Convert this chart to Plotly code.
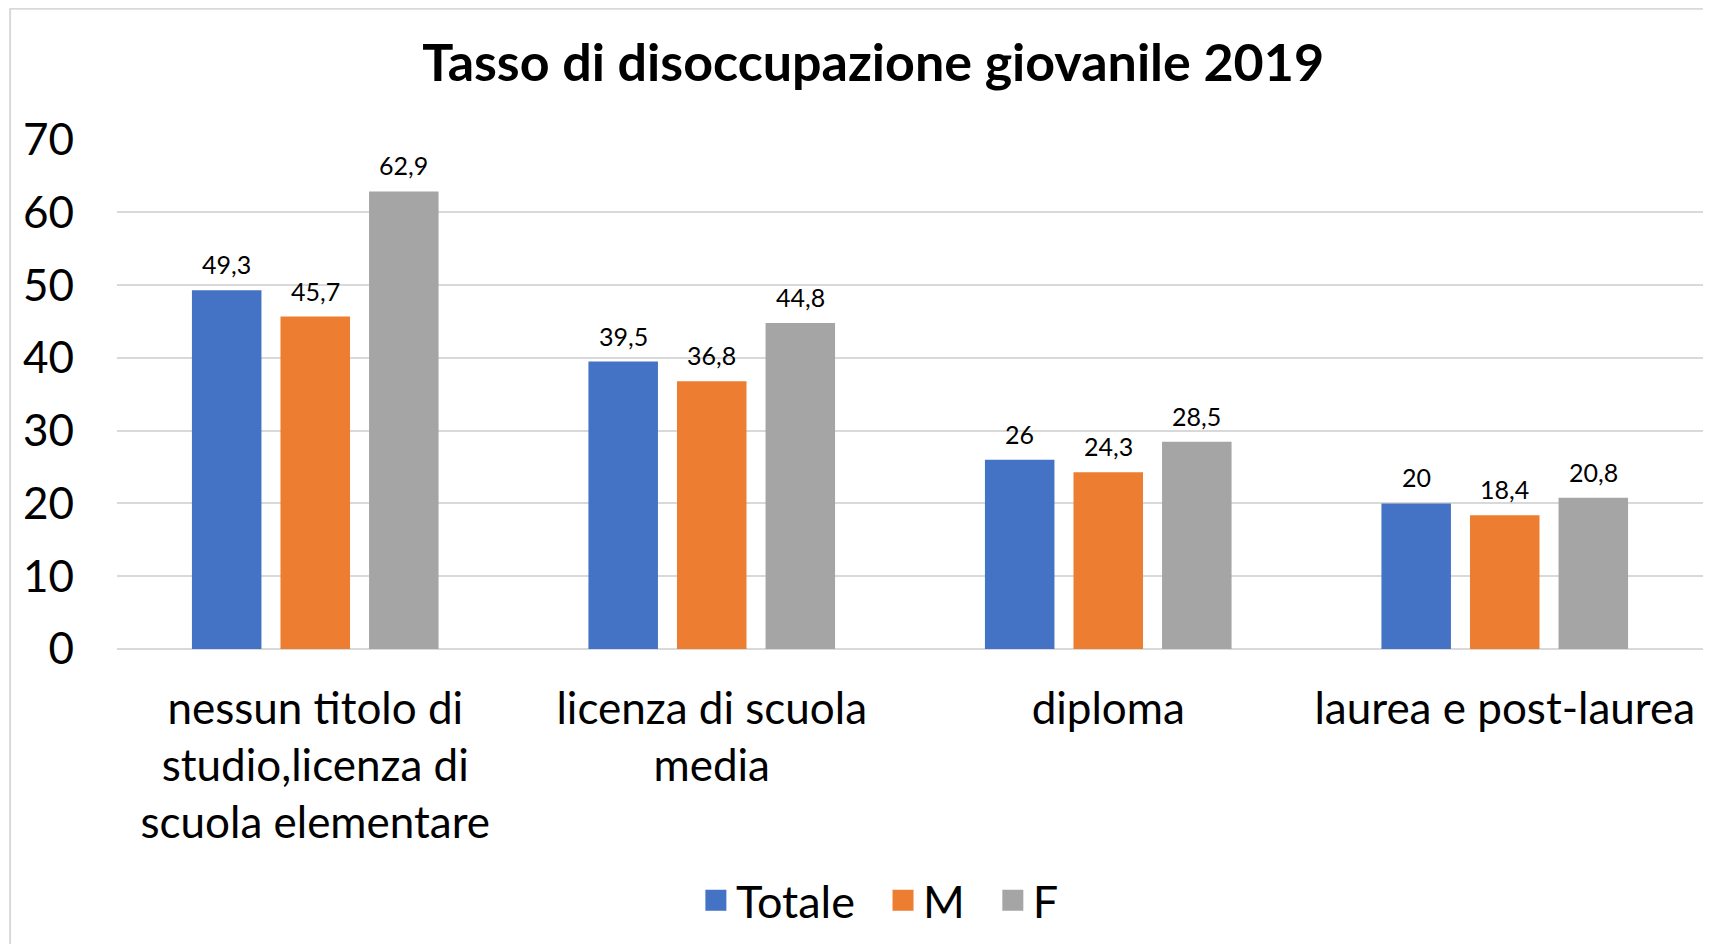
import plotly.graph_objects as go

categories = ["nessun titolo di<br>studio,licenza di<br>scuola elementare",
              "licenza di scuola<br>media", "diploma", "laurea e post-laurea"]
totale = [49.3, 39.5, 26, 20]
maschi = [45.7, 36.8, 24.3, 18.4]
femmine = [62.9, 44.8, 28.5, 20.8]
series_names = ["Totale", "M", "F"]
colors = ["#4472C4", "#ED7D31", "#A5A5A5"]
y_ticks = [0, 10, 20, 30, 40, 50, 60, 70]

FONT = "Lato"
W, H = 1703, 936
ML, MR, MT, MB = 108.5, 7.5, 131, 295
BARGAP, GROUPGAP = 0.33, 0.215
NBSP = "\u00a0"

def fmt(v):
    return ("%g" % v).replace(".", ",")

fig = go.Figure()
series = [totale, maschi, femmine]
for name, vals, col in zip(series_names, series, colors):
    fig.add_trace(go.Bar(
        x=categories, y=vals, name=name, marker_color=col, marker_line_width=0,
        showlegend=False, hoverinfo="x+y",
    ))
# legend entries (larger square symbols)
for k, (name, col) in enumerate(zip(series_names, colors)):
    label = name + (NBSP * 2 if k < len(series_names) - 1 else "")
    fig.add_trace(go.Scatter(
        x=[categories[0]], y=[None], mode="markers", name=label,
        marker=dict(symbol="square", size=26, color=col,
                    line=dict(color=col, width=5)),
    ))

# value labels above each bar, placed via the category axis + group slot offset
plot_w = W - ML - MR
slot_px = plot_w / len(categories) * (1 - BARGAP) / len(series)
annotations = []
for i, vals in enumerate(series):
    for cat, v in zip(categories, vals):
        annotations.append(dict(
            x=cat, y=v, xref="x", yref="y", text=fmt(v), showarrow=False,
            xshift=(i - 1) * slot_px, yanchor="bottom", yshift=9,
            font=dict(family=FONT, size=25, color="#000000"),
        ))

fig.update_layout(
    width=W, height=H,
    paper_bgcolor="white", plot_bgcolor="white",
    margin=dict(l=ML, r=MR, t=MT, b=MB),
    barmode="group", bargap=BARGAP, bargroupgap=GROUPGAP,
    title=dict(text="<b>Tasso di disoccupazione giovanile 2019</b>",
               font=dict(family=FONT, size=52, color="#000000"),
               x=0.508, xanchor="center", y=0.941, yanchor="middle"),
    font=dict(family=FONT, color="#000000"),
    legend=dict(orientation="h", x=0.365, xanchor="left", y=-0.493, yanchor="middle",
                font=dict(family=FONT, size=45, color="#000000"),
                itemwidth=30, traceorder="normal", itemsizing="trace"),
    annotations=annotations,
    xaxis=dict(showgrid=False, showline=False, ticks="",
               tickfont=dict(family=FONT, size=44, color="#000000"),
               ticklabelstandoff=30),
    yaxis=dict(range=[0, 70.1], tickvals=y_ticks, showgrid=True, gridcolor="#D9D9D9",
               gridwidth=2, zeroline=True, zerolinecolor="#D9D9D9", zerolinewidth=2,
               showline=False, ticks="",
               tickfont=dict(family=FONT, size=44, color="#000000"),
               ticklabelstandoff=42),
)

# chart border (left and top visible in the crop)
fig.add_shape(type="rect", xref="paper", yref="paper",
              x0=-0.0674, x1=1.2, y0=-1.0, y1=1.2554,
              line=dict(color="#D9D9D9", width=2), fillcolor="rgba(0,0,0,0)", layer="below")

fig.write_html("out.html")
